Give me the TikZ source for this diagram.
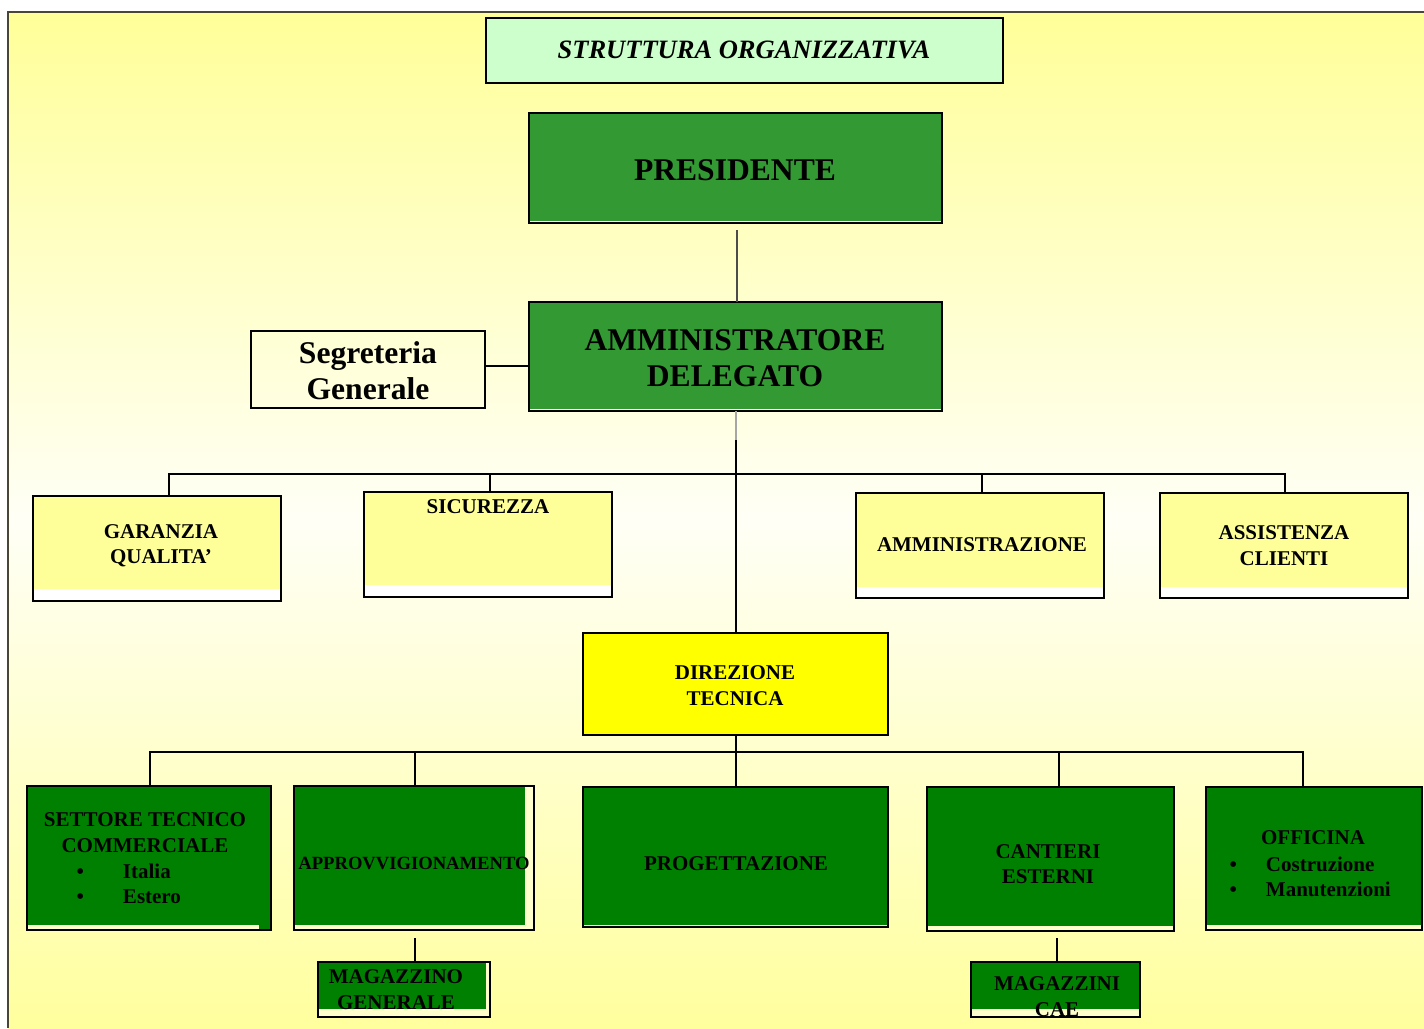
\documentclass[tikz,border=0pt]{standalone}
\usepackage{fontspec}
\setmainfont{Liberation Serif}
\usetikzlibrary{calc}
\definecolor{bgtop}{HTML}{FFFF99}
\definecolor{bgmid}{HTML}{FFFFF6}
\definecolor{bgbot}{HTML}{FFFF9E}
\definecolor{framec}{HTML}{4A4636}
\definecolor{titlec}{HTML}{CCFFCC}
\definecolor{topgreen}{HTML}{339933}
\definecolor{deepgreen}{HTML}{008000}
\definecolor{paleyellow}{HTML}{FFFF99}
\definecolor{brightyellow}{HTML}{FFFF00}
\definecolor{stripc}{HTML}{FFFFCC}
\newcommand\xftitle{\fontsize{26.5}{30}\selectfont\bfseries\itshape}
\newcommand\xfbig{\fontsize{31.6}{36}\selectfont\bfseries}
\newcommand\xfmid{\fontsize{21}{25.5}\selectfont\bfseries}
\newcommand\xfsmall{\fontsize{18.6}{22}\selectfont\bfseries}
\begin{document}
\begin{tikzpicture}[x=1pt,y=-1pt,
  bx/.style={draw=black,line width=2pt,inner sep=0pt,outer sep=0pt},
  txt/.style={inner sep=0pt,outer sep=0pt,align=center,text=black},
  strips/.style n args={4}{path picture={
     \fill[#1] (path picture bounding box.south west) rectangle ([yshift=#2,xshift=-#4]path picture bounding box.south east);
     \fill[#1] ([xshift=-#3]path picture bounding box.north east) rectangle (path picture bounding box.south east);}},
  conn/.style={draw=black,line width=2pt},
  thinconn/.style={draw=black!70,line width=1.2pt},
  faintconn/.style={draw=black!35,line width=1.2pt}]
\useasboundingbox (0,0) rectangle (1424,1028);
\fill[white] (0,0) rectangle (1424,1028);
\shade[top color=bgtop,bottom color=bgmid] (8,12) rectangle (1424,520);
\shade[top color=bgmid,bottom color=bgbot] (8,519.5) rectangle (1424,1028);
\draw[framec,line width=2pt] (8,1028) -- (8,12) -- (1424,12);

% title
\node[bx,fill=titlec,minimum width=517pt,minimum height=65pt] (b-title) at (744.5,50.5) {};
\node[txt,font=\xftitle] (t-title) at (744,50) {STRUTTURA ORGANIZZATIVA};

% top level
\node[bx,fill=topgreen,strips={white}{2.5pt}{0pt}{0pt},minimum width=413pt,minimum height=110pt] (b-pres) at (735,168) {};
\node[txt,font=\xfbig] (t-pres) at (735,170) {PRESIDENTE};
\node[bx,fill=topgreen,strips={white}{2.5pt}{0pt}{0pt},minimum width=413pt,minimum height=109pt] (b-ad) at (735,356.5) {};
\node[txt,font=\xfbig] (t-ad) at (735,358) {AMMINISTRATORE\\DELEGATO};
\node[bx,minimum width=234pt,minimum height=77pt] (b-seg) at (368,369.5) {};
\node[txt,font=\xfbig] (t-seg) at (368,371) {Segreteria\\Generale};

% staff boxes
\node[bx,fill=paleyellow,strips={white}{12pt}{0pt}{0pt},minimum width=248pt,minimum height=105pt] (b-gar) at (157,548.5) {};
\node[txt,font=\xfmid] (t-gar) at (161,545.5) {GARANZIA\\QUALITA’};
\node[bx,fill=paleyellow,strips={white}{12pt}{0pt}{0pt},minimum width=248pt,minimum height=105pt] (b-sic) at (488,544.5) {};
\node[txt,font=\xfmid] (t-sic) at (488,507) {SICUREZZA};
\node[bx,fill=paleyellow,strips={white}{11pt}{0pt}{0pt},minimum width=248pt,minimum height=105pt] (b-amm) at (980,545.5) {};
\node[txt,font=\xfmid] (t-amm) at (982,545) {AMMINISTRAZIONE};
\node[bx,fill=paleyellow,strips={white}{11pt}{0pt}{0pt},minimum width=248pt,minimum height=105pt] (b-ass) at (1284,545.5) {};
\node[txt,font=\xfmid] (t-ass) at (1284,545.5) {ASSISTENZA\\CLIENTI};

% direzione tecnica
\node[bx,fill=brightyellow,minimum width=305pt,minimum height=102pt] (b-dir) at (735,684) {};
\node[txt,font=\xfmid] (t-dir) at (735,685.5) {DIREZIONE\\TECNICA};

% operative boxes
\node[bx,fill=deepgreen,strips={stripc}{5pt}{0pt}{12pt},minimum width=244pt,minimum height=144pt] (b-set) at (149,858) {};
\node[txt,font=\xfmid] (t-set) at (145,832.5) {SETTORE TECNICO\\COMMERCIALE};
\node[txt,font=\xfmid,align=left,anchor=west] (t-setl) at (76.5,884) {\rlap{•}\hspace{46.5pt}Italia\\\rlap{•}\hspace{46.5pt}Estero};
\node[bx,fill=deepgreen,strips={stripc}{5pt}{9pt}{0pt},minimum width=240pt,minimum height=144pt] (b-app) at (414,858) {};
\node[txt,font=\xfsmall] (t-app) at (414,863) {APPROVVIGIONAMENTO};
\node[bx,fill=deepgreen,strips={stripc}{2pt}{0pt}{0pt},minimum width=305pt,minimum height=140pt] (b-pro) at (735.5,857) {};
\node[txt,font=\xfmid] (t-pro) at (736,864) {PROGETTAZIONE};
\node[bx,fill=deepgreen,strips={stripc}{5.5pt}{0pt}{0pt},minimum width=247pt,minimum height=144pt] (b-can) at (1050.5,859) {};
\node[txt,font=\xfmid] (t-can) at (1048,864) {CANTIERI\\ESTERNI};
\node[bx,fill=deepgreen,strips={stripc}{5pt}{0pt}{0pt},minimum width=216pt,minimum height=143pt] (b-off) at (1314,858.5) {};
\node[txt,font=\xfmid] (t-off) at (1313,838) {OFFICINA};
\node[txt,font=\xfmid,align=left,anchor=west] (t-offl) at (1229.5,877) {\rlap{•}\hspace{36.5pt}Costruzione\\\rlap{•}\hspace{36.5pt}Manutenzioni};

% magazzini
\node[bx,fill=deepgreen,strips={stripc}{8pt}{4pt}{0pt},minimum width=172pt,minimum height=55pt] (b-mag) at (404,989.5) {};
\node[txt,font=\xfmid] (t-mag) at (396,989.5) {MAGAZZINO\\GENERALE};
\node[bx,fill=deepgreen,strips={stripc}{8pt}{0pt}{0pt},minimum width=169pt,minimum height=55pt] (b-cae) at (1055.5,989.5) {};
\node[txt,font=\xfmid] (t-cae) at (1057,996.5) {MAGAZZINI\\CAE};

% connectors
\coordinate (pg) at ($(b-pres.south)+(2,7)$);
\draw[thinconn] (pg) -- (pg |- b-ad.north);
\coordinate (sg) at ($(b-seg.east)+(0,-3.5)$);
\draw[conn] (sg) -- (sg -| b-ad.west);
\coordinate (adx) at ($(b-ad.south)+(1,0)$);
\coordinate (adm) at ($(adx)+(0,29)$);
\draw[faintconn] (adx) -- (adm);
\draw[conn] (adm) -- (adm |- b-dir.north);

\coordinate (bus1) at (736,474);
\coordinate (gd) at ($(b-gar.north)+(12,0)$);
\coordinate (sd) at ($(b-sic.north)+(2,0)$);
\coordinate (amd) at ($(b-amm.north)+(2,0)$);
\coordinate (asd) at ($(b-ass.north)+(1,0)$);
\draw[conn] (gd) -- (gd |- bus1) -- (asd |- bus1) -- (asd);
\draw[conn] (sd) -- (sd |- bus1);
\draw[conn] (amd) -- (amd |- bus1);

\coordinate (bus2) at (736,752);
\coordinate (setd) at ($(b-set.north)+(1,0)$);
\coordinate (appd) at ($(b-app.north)+(1,0)$);
\coordinate (cand) at ($(b-can.north)+(8.5,0)$);
\coordinate (offd) at ($(b-off.north)+(-11,0)$);
\coordinate (dird) at ($(b-dir.south)+(1,0)$);
\draw[conn] (setd) -- (setd |- bus2) -- (offd |- bus2) -- (offd);
\draw[conn] (appd) -- (appd |- bus2);
\draw[conn] (cand) -- (cand |- bus2);
\draw[conn] (dird) -- (dird |- b-pro.north);

\coordinate (md) at ($(b-app.south)+(1,8)$);
\draw[conn] (md) -- (md |- b-mag.north);
\coordinate (cd) at ($(b-cae.north |- b-can.south)+(1.5,7)$);
\draw[conn] (cd) -- (cd |- b-cae.north);
\end{tikzpicture}
\end{document}
